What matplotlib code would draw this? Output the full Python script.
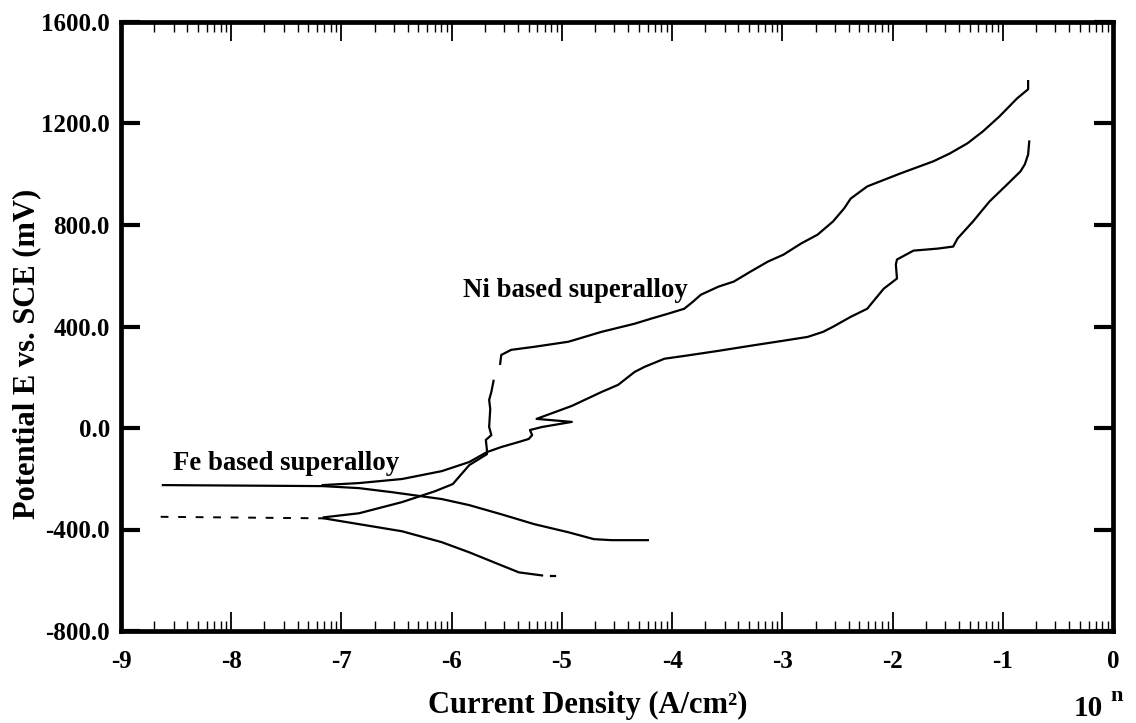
import numpy as np
import matplotlib
matplotlib.use("Agg")
import matplotlib.pyplot as plt

plt.rcParams['font.family'] = ['Liberation Serif', 'DejaVu Serif']
plt.rcParams['font.weight'] = 'bold'

# ---- data (x = log10 current density, y = potential in mV vs SCE) ----
fe_cath_x = [-8.62, -7.17, -6.84, -6.54, -6.09, -5.84, -5.55, -5.25, -4.94, -4.71, -4.55, -4.22]
fe_cath_y = [-225, -229, -237, -253, -280, -304, -340, -379, -411, -438, -442, -442]

fe_anod_x = [-7.17, -6.84, -6.45, -6.09, -5.84, -5.68, -5.55, -5.39, -5.30, -5.27, -5.29, -5.18,
             -4.91, -5.23, -4.91, -4.64, -4.49, -4.34, -4.25, -4.07, -3.89, -3.58, -3.29,
             -2.99, -2.77, -2.63, -2.54, -2.38, -2.23, -2.08, -1.96, -1.97, -1.96, -1.81,
             -1.59, -1.45, -1.41, -1.27, -1.12, -0.96, -0.84, -0.80, -0.77, -0.76]
fe_anod_y = [-225, -217, -201, -170, -134, -95, -75, -55, -43, -28, -8, 4,
             24, 36, 87, 142, 170, 221, 241, 273, 284, 304, 324,
             344, 359, 379, 399, 438, 470, 549, 589, 644, 664, 699,
             707, 715, 747, 814, 893, 960, 1011, 1039, 1078, 1129]

ni_cath_dash_x = [-8.64, -7.16]
ni_cath_dash_y = [-350, -356]
ni_cath_x = [-7.16, -6.84, -6.45, -6.09, -5.84, -5.55, -5.39, -5.18]
ni_cath_y = [-356, -379, -407, -450, -490, -541, -569, -581]
ni_cath_tail_x = [-5.10, -5.06]
ni_cath_tail_y = [-585, -585]

ni_anod_x = [-7.16, -6.84, -6.45, -6.15, -5.99, -5.84, -5.68, -5.68, -5.69, -5.64, -5.66,
             -5.65, -5.66, -5.64, -5.62, np.nan, -5.56, -5.55, -5.46, -5.25, -4.94, -4.64,
             -4.34, -4.19, -4.04, -3.89, -3.81, -3.74, -3.58, -3.44, -3.29, -3.13, -2.99,
             -2.83, -2.68, -2.54, -2.44, -2.38, -2.23, -1.93, -1.63, -1.48, -1.32, -1.18,
             -1.03, -0.87, -0.77, -0.77]
ni_anod_y = [-352, -336, -292, -249, -221, -146, -103, -87, -47, -28, 4,
             75, 111, 142, 186, np.nan, 253, 288, 308, 320, 340, 379,
             411, 431, 450, 470, 498, 525, 557, 577, 616, 656, 683,
             727, 762, 814, 865, 904, 952, 1003, 1051, 1082, 1122, 1169,
             1228, 1299, 1335, 1367]

x_ticks = [-9, -8, -7, -6, -5, -4, -3, -2, -1, 0]
x_ticklabels = ['-9', '-8', '-7', '-6', '-5', '-4', '-3', '-2', '-1', '0']
y_ticks = [-800, -400, 0, 400, 800, 1200, 1600]
y_ticklabels = ['-800.0', '-400.0', '0.0', '400.0', '800.0', '1200.0', '1600.0']

# ---- figure ----
W, H = 1136, 723
fig = plt.figure(figsize=(W / 100, H / 100), dpi=100)
ax = fig.add_axes([121 / W, 1 - 631 / H, (1113 - 121) / W, (631 - 22) / H])

lw = 1.6
ax.plot(fe_cath_x, fe_cath_y, color='black', lw=lw)
ax.plot(fe_anod_x, fe_anod_y, color='black', lw=lw)
ax.plot(ni_cath_dash_x, ni_cath_dash_y, color='black', lw=1.4, ls=(0, (4, 5)))
ax.plot(ni_cath_x, ni_cath_y, color='black', lw=lw)
ax.plot(ni_cath_tail_x, ni_cath_tail_y, color='black', lw=lw)
ax.plot(ni_anod_x, ni_anod_y, color='black', lw=lw)

ax.set_xlim(-9, 0)
ax.set_ylim(-800, 1600)

ax.set_xticks(x_ticks)
ax.set_xticklabels(x_ticklabels, fontsize=18, fontweight='bold')
minor = [d + np.log10(k) for d in x_ticks[:-1] for k in range(2, 10)]
ax.set_xticks(minor, minor=True)
ax.set_yticks(y_ticks)
ax.set_yticklabels(y_ticklabels, fontsize=18, fontweight='bold')

ax.tick_params(axis='x', which='major', direction='in', length=14, width=1.3,
               top=True, bottom=True, pad=14)
ax.tick_params(axis='x', which='minor', direction='in', length=7, width=1.0,
               top=True, bottom=True)
ax.tick_params(axis='y', which='major', direction='in', length=14, width=3,
               left=True, right=True, pad=8)

for s in ax.spines.values():
    s.set_linewidth(3.4)

ax.text(-5.90, 517, 'Ni based superalloy', fontsize=19.3, fontweight='bold',
        ha='left', va='baseline')
ax.text(-8.53, -166, 'Fe based superalloy', fontsize=19.3, fontweight='bold',
        ha='left', va='baseline')

fig.text(27 / W, 1 - 354 / H, 'Potential E vs. SCE (mV)', rotation=90,
         fontsize=22, fontweight='bold', ha='center', va='center')
fig.text(588 / W, 1 - 713 / H, 'Current Density (A/cm\u00b2)',
         fontsize=22, fontweight='bold', ha='center', va='baseline')
fig.text(1088 / W, 1 - 716 / H, '10', fontsize=21, fontweight='bold',
         ha='center', va='baseline')
fig.text(1117 / W, 1 - 701 / H, 'n', fontsize=16, fontweight='bold',
         ha='center', va='baseline')

fig.savefig('out.png', dpi=100)
